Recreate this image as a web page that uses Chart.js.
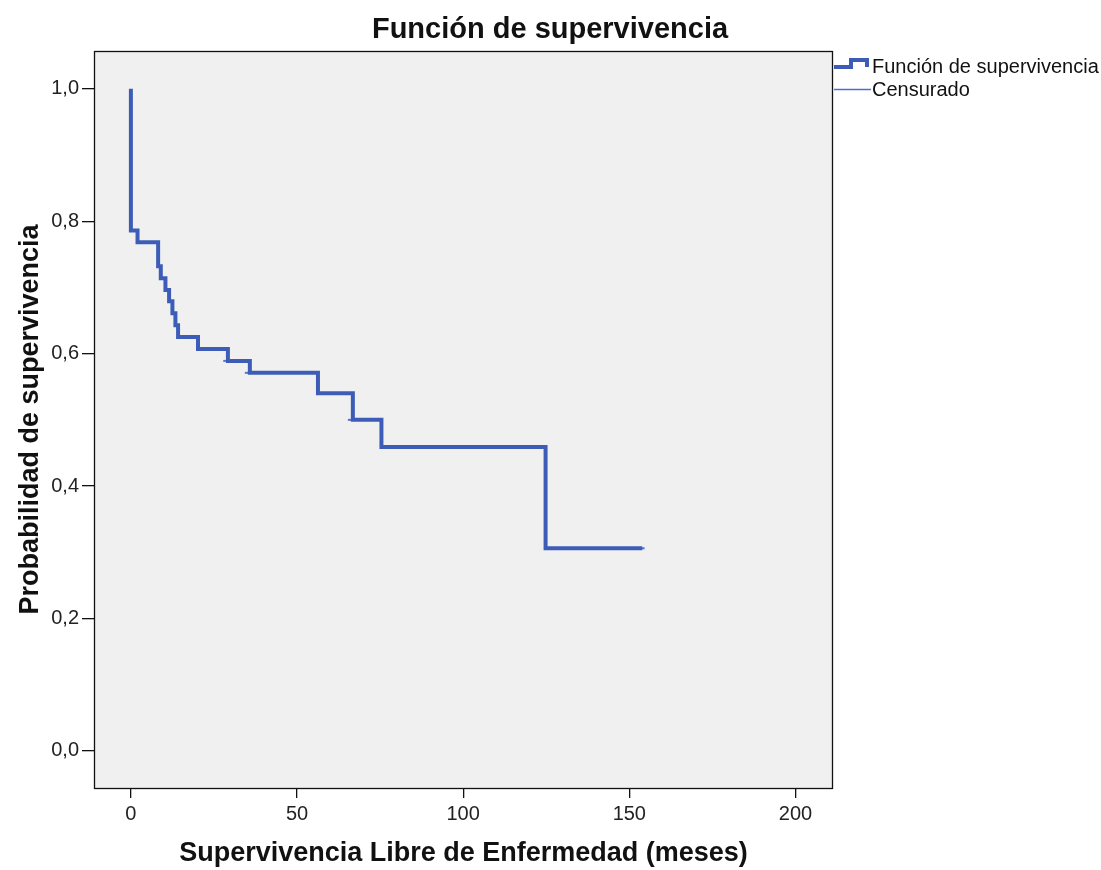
<!DOCTYPE html>
<html>
<head>
<meta charset="utf-8">
<script src="https://cdn.jsdelivr.net/npm/chart.js@4.4.0/dist/chart.umd.min.js"></script>
<style>
  html, body { margin: 0; padding: 0; background: #fff; }
</style>
</head>
<body>
<canvas id="km" width="1101" height="870"></canvas>
<script>
// Kaplan-Meier curve: time (months) and survival after each event
const months   = [0, 0, 2, 8.2, 9, 10.4, 11.5, 12.5, 13.4, 14.2, 20.2, 29.2, 35.8, 56.3, 66.8, 75.4, 124.8, 153.9];
const survival = [1.0, 0.786, 0.768, 0.732, 0.714, 0.696, 0.679, 0.661, 0.643, 0.625, 0.607, 0.589, 0.571, 0.540, 0.500, 0.459, 0.306, 0.306];

// censored cases
const censorMonths   = [29, 35.5, 66.5, 153.4];
const censorSurvival = [0.589, 0.571, 0.500, 0.306];

const xTicks = [0, 50, 100, 150, 200];
const yTicks = [0, 0.2, 0.4, 0.6, 0.8, 1.0];

const LINE = "#3d5cb7";
const FONT = '"Liberation Sans", Arial, sans-serif';

Chart.defaults.font.family = FONT;
Chart.defaults.color = "#1a1a1a";

// grey plot area, black frame, title and the legend on the right
const spssFrame = {
  id: "spssFrame",
  beforeDraw(chart) {
    const { ctx, chartArea: a } = chart;
    ctx.save();
    ctx.fillStyle = "#f0f0f0";
    ctx.fillRect(a.left, a.top, a.right - a.left, a.bottom - a.top);
    ctx.restore();
  },
  afterDraw(chart) {
    const { ctx, chartArea: a } = chart;
    ctx.save();
    ctx.strokeStyle = "#111";
    ctx.lineWidth = 1.3;
    ctx.strokeRect(a.left + 0.5, a.top + 0.5, a.right - a.left - 1, a.bottom - a.top);

    // title
    ctx.fillStyle = "#111";
    ctx.font = "bold 29px " + FONT;
    ctx.textAlign = "center";
    ctx.textBaseline = "middle";
    ctx.fillText("Función de supervivencia", 550, 30);

    // legend
    const lx = a.right + 1;
    ctx.strokeStyle = LINE;
    ctx.lineWidth = 4;
    ctx.lineJoin = "miter";
    ctx.beginPath();
    ctx.moveTo(lx, 67);
    ctx.lineTo(lx + 17, 67);
    ctx.lineTo(lx + 17, 60);
    ctx.lineTo(lx + 33, 60);
    ctx.lineTo(lx + 33, 67);
    ctx.stroke();

    ctx.strokeStyle = "#4f6fd0";
    ctx.lineWidth = 1.5;
    ctx.beginPath();
    ctx.moveTo(lx, 89.5);
    ctx.lineTo(lx + 37, 89.5);
    ctx.stroke();

    ctx.fillStyle = "#111";
    ctx.font = "20px " + FONT;
    ctx.textAlign = "left";
    ctx.fillText(chart.data.datasets[0].label, lx + 38, 67);
    ctx.fillText(chart.data.datasets[1].label, lx + 38, 90);
    ctx.restore();
  }
};

new Chart(document.getElementById("km"), {
  type: "line",
  data: {
    datasets: [
      {
        label: "Función de supervivencia",
        data: months.map((m, i) => ({ x: m, y: survival[i] })),
        stepped: true,
        borderColor: LINE,
        borderWidth: 4,
        pointRadius: 0,
        fill: false
      },
      {
        label: "Censurado",
        data: censorMonths.map((m, i) => ({ x: m, y: censorSurvival[i] })),
        showLine: false,
        pointStyle: "line",
        pointRadius: 4,
        borderColor: "#5573cf",
        borderWidth: 2
      }
    ]
  },
  options: {
    responsive: false,
    devicePixelRatio: 1,
    animation: false,
    layout: { padding: { top: 51, right: 268, bottom: 0, left: 0 } },
    plugins: {
      legend: { display: false },
      tooltip: { enabled: false }
    },
    scales: {
      x: {
        type: "linear",
        min: -11.1,
        max: 211.3,
        afterBuildTicks: s => { s.ticks = xTicks.map(v => ({ value: v })); },
        afterFit: s => { s.height = 82; },
        ticks: { autoSkip: false, maxRotation: 0, padding: 4, font: { size: 20 }, color: "#222" },
        grid: { drawOnChartArea: false, tickLength: 10, color: "#111", lineWidth: 1.3 },
        border: { display: false },
        title: {
          display: true,
          text: "Supervivencia Libre de Enfermedad (meses)",
          font: { size: 27, weight: "bold" },
          color: "#111",
          padding: { top: 0, bottom: 0 }
        }
      },
      y: {
        min: -0.056,
        max: 1.057,
        afterBuildTicks: s => { s.ticks = yTicks.map(v => ({ value: v })); },
        afterFit: s => { s.width = 94; },
        ticks: {
          autoSkip: false,
          padding: 3,
          font: { size: 20 },
          color: "#222",
          callback: v => v.toFixed(1).replace(".", ",")
        },
        grid: { drawOnChartArea: false, tickLength: 12, color: "#111", lineWidth: 1.3 },
        border: { display: false },
        title: {
          display: true,
          text: "Probabilidad de supervivencia",
          font: { size: 27, weight: "bold" },
          color: "#111",
          padding: { top: 14, bottom: 0 }
        }
      }
    }
  },
  plugins: [spssFrame]
});
</script>
</body>
</html>
